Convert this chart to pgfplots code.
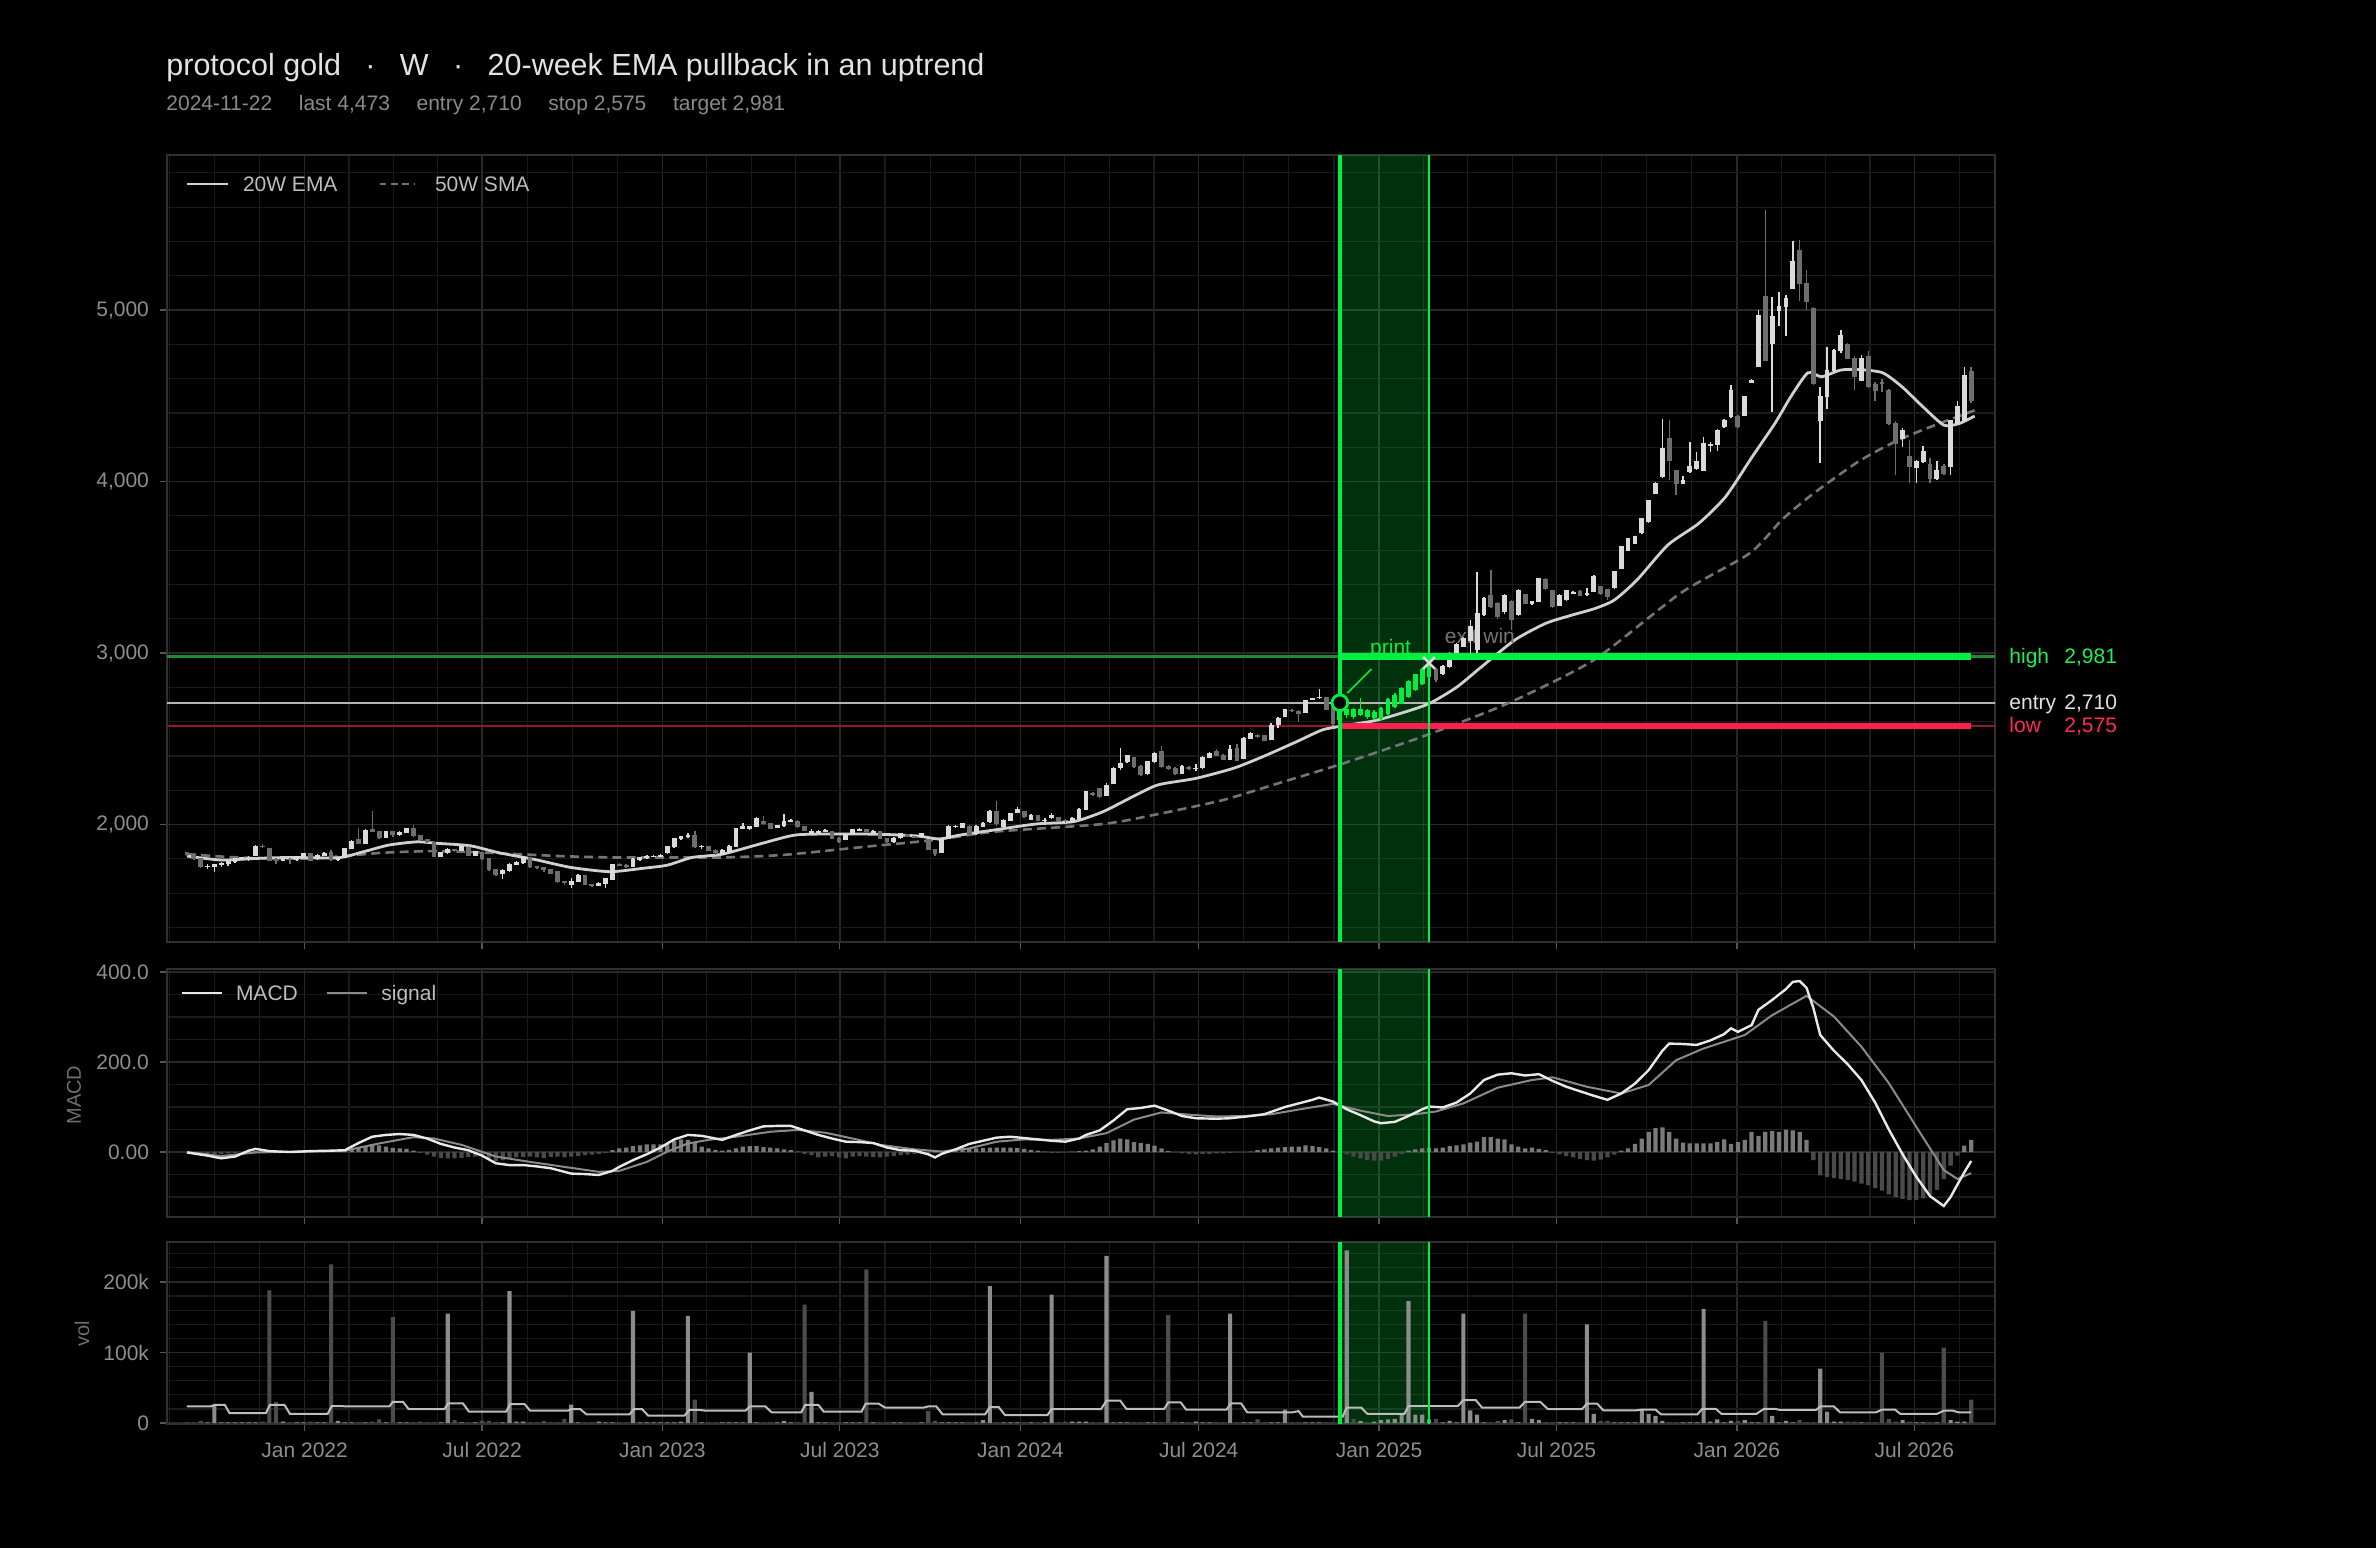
\documentclass[border=0pt]{standalone}
\usepackage{pgfplots}
\pgfplotsset{compat=1.18}
\usepackage{pgfplotstable}
\usepackage{fontspec}
\setmainfont{Liberation Sans}

\definecolor{framec}{HTML}{303030}
\definecolor{gridmaj}{HTML}{282828}
\definecolor{gridmin}{HTML}{1A1A1A}
\definecolor{tickc}{HTML}{555555}
\definecolor{ticklab}{HTML}{8E8E8E}
\definecolor{titlec}{HTML}{E2E2E2}
\definecolor{subc}{HTML}{8A8A8A}
\definecolor{legc}{HTML}{BDBDBD}
\definecolor{upc}{HTML}{DADADA}
\definecolor{dnc}{HTML}{6E6E6E}
\definecolor{trade}{HTML}{00F040}
\definecolor{hidim}{HTML}{1E8C30}
\definecolor{lodim}{HTML}{8E1830}
\definecolor{lored}{HTML}{FF1F4F}
\definecolor{entryc}{HTML}{B4B4B4}
\definecolor{emac}{HTML}{D0D0D0}
\definecolor{smac}{HTML}{747474}
\definecolor{macdc}{HTML}{E8E8E8}
\definecolor{sigc}{HTML}{8A8A8A}
\definecolor{hpos}{HTML}{7A7A7A}
\definecolor{hneg}{HTML}{4A4A4A}
\definecolor{vup}{HTML}{8C8C8C}
\definecolor{vdn}{HTML}{4C4C4C}
\definecolor{vavg}{HTML}{BDBDBD}
\definecolor{exitc}{HTML}{747474}
\definecolor{labc}{HTML}{6E6E6E}
\definecolor{hilab}{HTML}{22EE55}
\definecolor{entlab}{HTML}{E0E0E0}
\definecolor{lolab}{HTML}{FF2A55}

\newcommand{\fs}{\fontsize{10.5}{12.6}\selectfont}

\pgfplotsset{
  panel/.style={
    scale only axis, width=914pt,
    xmin=-2.91, xmax=263.47,
    enlargelimits=false,
    axis line style={draw=framec, line width=1pt},
    grid=both,
    major grid style={draw=gridmaj, line width=0.7pt},
    minor grid style={draw=gridmin, line width=0.6pt},
    major tick length=3.5pt, minor tick length=0pt,
    tick align=outside,
    tick style={draw=tickc, line width=0.6pt},
    xtick={17.143,43.0,69.286,95.143,121.43,147.43,173.71,199.57,225.86,251.71},
    minor xtick={-2.57,4.0,10.57,23.607,30.071,36.536,49.571,56.143,62.714,75.75,82.214,88.679,101.71,108.29,114.86,127.93,134.43,140.93,154.0,160.57,167.14,180.18,186.64,193.11,206.14,212.71,219.29,232.32,238.79,245.25,258.29},
    xticklabels={},
    xtick pos=left, ytick pos=left,
    tick label style={font=\fs, text=ticklab},
    yticklabel style={xshift=-2pt},
    axis background/.style={fill=black},
  },
  wick/.style={forget plot, mark=none, draw=#1, line width=0.75pt,
    quiver={u=0, v=\thisrow{h}-\thisrow{l}}},
  body/.style={forget plot, mark=none, draw=#1, line width=2.4pt,
    quiver={u=0, v=abs(\thisrow{c}-\thisrow{o})+6}},
}

\pgfplotstableread{
i o h l c v m
0 1835 1842 1815 1827 1 -1
1 1827 1832 1795 1800 1 -2
2 1800 1805 1745 1754 3 -3
3 1754 1768 1740 1758 1 -4
4 1758 1772 1725 1765 25 -4
5 1765 1780 1752 1775 1 -4
6 1775 1790 1760 1783 1 -3
7 1783 1806 1775 1802 1 -2
8 1802 1812 1795 1808 1 -1
9 1808 1816 1785 1810 1 0
10 1822 1878 1818 1874 1 2
11 1874 1888 1865 1870 2 2
12 1858 1862 1790 1793 188 1
13 1793 1805 1770 1790 30 0
14 1790 1805 1785 1797 2 0
15 1797 1802 1770 1795 1 0
16 1795 1818 1790 1812 1 1
17 1814 1834 1810 1830 1 1
18 1832 1836 1790 1793 2 1
19 1800 1826 1795 1822 1 1
20 1822 1840 1815 1830 1 1
21 1838 1852 1788 1795 225 2
22 1795 1808 1790 1802 3 2
23 1810 1865 1808 1860 1 3
24 1860 1908 1858 1903 1 6
25 1912 1977 1885 1890 1 10
26 1890 1972 1888 1967 1 13
27 1970 2078 1955 1960 2 17
28 1960 1962 1915 1923 5 15
29 1925 1962 1920 1957 1 12
30 1957 1965 1925 1940 150 9
31 1940 1962 1935 1955 1 8
32 1955 1982 1950 1977 1 7
33 1977 1998 1930 1935 1 3
34 1935 1938 1905 1910 2 -2
35 1910 1915 1895 1900 1 -6
36 1898 1900 1808 1812 1 -10
37 1812 1840 1810 1835 1 -13
38 1835 1862 1830 1855 155 -14
39 1855 1858 1840 1850 4 -14
40 1850 1878 1845 1870 1 -13
41 1868 1872 1815 1822 1 -11
42 1822 1848 1818 1840 1 -10
43 1838 1842 1795 1800 3 -9
44 1800 1802 1730 1738 3 -14
45 1738 1742 1700 1710 1 -20
46 1715 1738 1685 1730 1 -18
47 1730 1775 1725 1769 187 -14
48 1769 1785 1762 1777 2 -12
49 1777 1815 1772 1808 2 -11
50 1805 1810 1748 1754 1 -10
51 1754 1760 1740 1750 1 -12
52 1750 1752 1725 1735 3 -13
53 1735 1740 1710 1715 1 -11
54 1725 1728 1660 1666 1 -10
55 1666 1672 1650 1660 6 -12
56 1650 1690 1630 1670 26 -10
57 1670 1710 1665 1705 1 -9
58 1700 1705 1645 1651 1 -7
59 1651 1655 1638 1647 1 -6
60 1647 1662 1640 1657 2 -4
61 1657 1688 1630 1683 1 -2
62 1680 1770 1675 1767 1 4
63 1767 1775 1758 1763 1 8
64 1763 1768 1748 1754 1 10
65 1758 1802 1752 1798 159 13
66 1798 1812 1790 1806 1 15
67 1806 1820 1800 1816 1 17
68 1816 1822 1810 1816 1 17
69 1816 1828 1812 1822 1 17
70 1835 1874 1830 1870 1 18
71 1870 1922 1866 1918 1 25
72 1918 1935 1912 1928 2 28
73 1928 1948 1922 1938 152 27
74 1938 1960 1865 1870 33 20
75 1870 1878 1860 1870 1 12
76 1870 1875 1845 1850 1 8
77 1850 1856 1822 1835 1 5
78 1828 1858 1825 1850 1 3
79 1840 1880 1835 1871 1 5
80 1871 1982 1868 1978 1 8
81 1978 2010 1972 1987 1 12
82 1975 1992 1968 1988 100 13
83 1990 2045 1985 2036 1 13
84 2020 2050 2000 2007 1 11
85 2005 2010 1972 1978 1 10
86 1985 1998 1980 1992 1 8
87 1992 2060 1988 2020 3 6
88 2020 2032 2015 2026 1 4
89 2020 2024 1982 1988 1 1
90 1988 1992 1962 1968 168 -4
91 1950 1972 1945 1958 44 -7
92 1955 1968 1950 1960 1 -12
93 1960 1975 1955 1965 1 -10
94 1960 1964 1915 1920 1 -9
95 1920 1925 1895 1900 1 -12
96 1912 1945 1908 1940 1 -14
97 1940 1972 1936 1968 1 -10
98 1968 1978 1962 1968 1 -9
99 1968 1970 1950 1958 218 -10
100 1950 1968 1945 1960 1 -11
101 1958 1962 1915 1920 1 -12
102 1920 1924 1895 1900 1 -10
103 1900 1925 1895 1920 1 -9
104 1922 1952 1918 1945 1 -7
105 1940 1946 1926 1930 1 -6
106 1930 1935 1920 1925 1 -4
107 1930 1950 1925 1945 1 -3
108 1910 1915 1850 1855 17 -2
109 1855 1858 1815 1830 3 -2
110 1838 1915 1835 1910 1 0
111 1920 1995 1918 1988 1 2
112 1988 1998 1980 1988 1 4
113 1985 2010 1980 2003 1 6
114 1990 1995 1935 1940 1 7
115 1945 1995 1940 1988 1 8
116 1990 2012 1985 2003 4 9
117 2015 2082 2010 2075 194 10
118 2075 2140 1990 2007 1 10
119 1990 2032 1985 2026 1 10
120 2026 2070 2020 2065 1 10
121 2072 2100 2068 2085 1 9
122 2075 2080 2040 2045 1 7
123 2030 2060 2025 2055 1 5
124 2055 2058 2018 2022 1 3
125 2022 2040 2015 2026 1 1
126 2040 2065 2035 2055 182 -2
127 2040 2045 2020 2026 1 -2
128 2026 2030 2010 2022 2 -1
129 2012 2042 2008 2036 2 1
130 2036 2095 2030 2089 2 2
131 2090 2198 2085 2192 2 3
132 2180 2190 2165 2173 1 6
133 2210 2215 2155 2163 1 12
134 2170 2240 2165 2230 237 20
135 2240 2335 2235 2327 1 26
136 2330 2445 2320 2357 1 30
137 2365 2405 2360 2400 1 28
138 2390 2395 2330 2337 1 22
139 2340 2345 2285 2294 1 20
140 2300 2372 2290 2366 1 18
141 2366 2420 2360 2415 1 14
142 2425 2460 2330 2337 1 8
143 2340 2345 2318 2327 153 2
144 2327 2335 2290 2298 2 -1
145 2300 2345 2295 2337 1 -3
146 2335 2340 2315 2327 1 -4
147 2327 2355 2310 2327 2 -5
148 2330 2398 2325 2392 1 -4
149 2392 2425 2385 2415 1 -4
150 2425 2440 2400 2405 1 -3
151 2405 2410 2375 2380 1 -3
152 2380 2462 2375 2435 155 -2
153 2445 2470 2370 2376 1 -1
154 2385 2510 2380 2502 1 0
155 2502 2540 2498 2532 1 1
156 2520 2525 2505 2512 5 4
157 2518 2522 2485 2490 1 6
158 2495 2590 2490 2580 1 8
159 2585 2625 2560 2619 1 10
160 2630 2675 2625 2668 19 11
161 2665 2672 2658 2663 1 12
162 2660 2668 2600 2648 1 12
163 2655 2725 2650 2722 1 15
164 2728 2740 2725 2735 1 13
165 2738 2790 2732 2741 1 11
166 2741 2745 2670 2672 1 8
167 2680 2690 2575 2590 1 3
168 2610 2720 2570 2707 3 -2
169 2640 2690 2620 2672 245 -5
170 2672 2680 2615 2632 6 -10
171 2640 2735 2630 2672 3 -14
172 2665 2675 2615 2628 1 -18
173 2622 2665 2610 2655 2 -19
174 2620 2685 2612 2678 4 -19
175 2650 2735 2640 2726 5 -16
176 2688 2765 2680 2755 6 -10
177 2707 2800 2700 2794 12 -4
178 2746 2840 2740 2833 173 3
179 2785 2880 2778 2872 12 6
180 2823 2910 2815 2901 12 8
181 2862 2945 2855 2930 5 10
182 2901 2910 2830 2843 6 8
183 2882 2930 2870 2920 1 10
184 2920 3005 2910 2998 3 13
185 2998 3060 2990 3050 1 15
186 3040 3095 3035 3085 155 17
187 3076 3190 2990 3154 18 21
188 3020 3470 2990 3231 12 23
189 3222 3325 3215 3319 1 33
190 3335 3484 3260 3270 1 33
191 3290 3300 3200 3212 3 30
192 3240 3345 3230 3338 4 28
193 3300 3310 3135 3193 5 17
194 3225 3375 3215 3367 1 12
195 3340 3345 3285 3290 155 8
196 3290 3305 3280 3300 6 10
197 3300 3440 3295 3435 4 7
198 3430 3440 3370 3377 1 4
199 3365 3370 3260 3270 1 -2
200 3280 3345 3275 3338 1 -5
201 3310 3370 3305 3367 1 -9
202 3350 3360 3345 3355 1 -12
203 3360 3365 3330 3338 1 -15
204 3340 3380 3335 3348 140 -18
205 3360 3455 3355 3445 13 -19
206 3385 3390 3340 3348 3 -17
207 3370 3375 3310 3330 3 -12
208 3380 3480 3375 3474 1 -6
209 3493 3625 3490 3620 1 3
210 3600 3672 3595 3668 1 8
211 3640 3682 3635 3678 1 18
212 3700 3790 3695 3785 20 30
213 3765 3895 3760 3892 13 45
214 3930 3995 3925 3989 10 53
215 4028 4365 4020 4193 3 55
216 4251 4358 4010 4125 1 45
217 4067 4070 3920 3989 1 30
218 3990 4030 3985 4008 1 21
219 4060 4230 4050 4086 1 19
220 4075 4170 4070 4115 1 19
221 4067 4260 4062 4222 162 19
222 4210 4232 4170 4213 2 19
223 4215 4305 4180 4300 5 22
224 4320 4362 4315 4358 1 28
225 4378 4560 4370 4533 3 18
226 4378 4390 4310 4320 3 22
227 4385 4500 4380 4494 4 27
228 4580 4600 4575 4591 1 45
229 4669 5000 4665 4970 1 36
230 5077 5583 4700 4708 145 45
231 4805 5078 4407 4960 10 47
232 5000 5108 4905 5019 1 45
233 5020 5085 4850 5067 3 50
234 5126 5400 5120 5281 1 48
235 5349 5408 5050 5155 4 45
236 5155 5233 5000 5048 1 27
237 5009 5015 4565 4572 1 -18
238 4358 4553 4106 4494 77 -52
239 4494 4786 4420 4650 16 -55
240 4650 4770 4640 4766 2 -58
241 4766 4883 4750 4853 2 -60
242 4800 4805 4712 4718 2 -62
243 4720 4730 4533 4611 2 -66
244 4590 4740 4585 4718 1 -70
245 4728 4760 4548 4553 1 -74
246 4563 4580 4470 4533 1 -80
247 4580 4600 4520 4572 100 -86
248 4533 4540 4330 4339 6 -94
249 4339 4350 4038 4222 2 -100
250 4250 4310 4200 4300 4 -104
251 4145 4240 3990 4087 2 -107
252 4080 4125 3990 4115 1 -107
253 4115 4210 4108 4174 1 -103
254 4100 4140 3990 4018 1 -95
255 4018 4120 4010 4067 1 -84
256 4086 4100 4040 4048 107 -60
257 4086 4360 4038 4358 4 -30
258 4340 4470 4330 4436 2 -8
259 4358 4665 4355 4621 2 14
260 4640 4669 4460 4475 33 27
}\candles

\begin{document}
\begin{tikzpicture}
\path[use as bounding box, fill=black] (0,0) rectangle (1188pt,774pt);

% ---------------- titles
\node[anchor=base west, inner sep=0, text=titlec, font=\fontsize{15.25}{18}\selectfont] at (83pt,736pt)
  {protocol gold\hspace{0.8em}·\hspace{0.8em}W\hspace{0.8em}·\hspace{0.8em}20-week EMA pullback in an uptrend};
\node[anchor=base west, inner sep=0, text=subc, font=\fs] at (83pt,718.5pt)
  {2024-11-22\hspace{1.27em}last 4,473\hspace{1.27em}entry 2,710\hspace{1.27em}stop 2,575\hspace{1.27em}target 2,981};

% ---------------- price panel
\begin{axis}[panel, at={(83.5pt,303pt)}, anchor=south west, height=393.5pt,
  ymin=1315, ymax=5904,
  ytick={2000,3000,4000,5000}, yticklabels={{2,000},{3,000},{4,000},{5,000}},
  minor ytick={1400,1600,1800,2200,2400,2600,2800,3200,3400,3600,3800,4200,4400,4600,4800,5200,5400,5600,5800}]
\fill[trade, fill opacity=0.2] ({axis cs:168,3000}|-{rel axis cs:0,0}) rectangle ({axis cs:181,3000}|-{rel axis cs:0,1});
\addplot[hidim, line width=1.3pt, forget plot] coordinates {(-10,2981) (270,2981)};
\addplot[entryc, line width=0.8pt, forget plot] coordinates {(-10,2710) (270,2710)};
\addplot[lodim, line width=1.3pt, forget plot] coordinates {(-10,2575) (270,2575)};
% 50W SMA
\addplot[smac, line width=1.3pt, dash pattern=on 4.5pt off 2.6pt, smooth, tension=0.4] coordinates {
(0,1827) (7.5,1808) (18,1802) (28.4,1835) (36.2,1845) (44,1835) (54.3,1816) (62.1,1808) (70,1808) (78,1808)
(87,1823) (99,1871) (109,1910) (117.6,1958) (133.5,2003) (142,2065) (151,2143) (159,2240) (168,2350)
(180,2512) (192.5,2707) (205,2959) (217.6,3348) (227.7,3581) (232.5,3780) (237,3930) (243.7,4120)
(249.3,4240) (254.8,4330) (260.5,4415)};
% 20W EMA
\addplot[emac, line width=1.4pt, smooth, tension=0.4] coordinates {
(0,1816) (5,1793) (10,1802) (15,1808) (22,1806) (25.7,1841) (29.4,1880) (33.5,1899) (36.6,1890) (41.3,1876)
(45.5,1835) (50.7,1796) (55.9,1750) (61.6,1725) (66.3,1744) (70,1763) (73.6,1808) (78,1827) (83.8,1890)
(88.7,1939) (94.9,1945) (101,1943) (106.5,1933) (109.6,1916) (112.7,1939) (117.6,1968) (123.7,2003)
(129.2,2017) (133.5,2075) (137.8,2162) (141.5,2231) (147,2269) (152.5,2328) (156.8,2396) (161.7,2483)
(165.4,2551) (168,2572) (173,2605) (177,2650) (181,2705) (185,2800) (188.5,2915) (193.5,3076) (198,3173)
(201.9,3222) (205.2,3260) (208,3309) (211.3,3426) (215.8,3630) (220.3,3756) (224.2,3911) (228.1,4145)
(231.4,4339) (233.7,4494) (236.2,4634) (238.2,4611) (241,4650) (243.7,4653) (247.1,4634) (249.9,4553)
(252.7,4446) (256,4329) (258.3,4339) (260.5,4382)};
\node[anchor=base, text=exitc, font=\fs, inner sep=0] at (axis cs:188.4,3058) {exit win};
% wicks (drawn upward from the low)
\addplot[wick=upc]
  table[x=i, y expr={(\thisrow{c}>=\thisrow{o})*((\thisrow{i}<167.5)+(\thisrow{i}>181.5))>0.5 ? \thisrow{l} : nan}] {\candles};
\addplot[wick=dnc]
  table[x=i, y expr={(\thisrow{c}<\thisrow{o})*((\thisrow{i}<167.5)+(\thisrow{i}>181.5))>0.5 ? \thisrow{l} : nan}] {\candles};
\addplot[wick=trade]
  table[x=i, y expr={((\thisrow{i}<167.5)+(\thisrow{i}>181.5))<0.5 ? \thisrow{l} : nan}] {\candles};
% bodies (drawn upward from the lower of open and close)
\addplot[body=upc]
  table[x=i, y expr={(\thisrow{c}>=\thisrow{o})*((\thisrow{i}<167.5)+(\thisrow{i}>181.5))>0.5 ? min(\thisrow{o},\thisrow{c})-3 : nan}] {\candles};
\addplot[body=dnc]
  table[x=i, y expr={(\thisrow{c}<\thisrow{o})*((\thisrow{i}<167.5)+(\thisrow{i}>181.5))>0.5 ? min(\thisrow{o},\thisrow{c})-3 : nan}] {\candles};
\addplot[body=trade]
  table[x=i, y expr={((\thisrow{i}<167.5)+(\thisrow{i}>181.5))<0.5 ? min(\thisrow{o},\thisrow{c})-3 : nan}] {\candles};
% trade annotations
\node[anchor=base, text=trade, font=\fs, inner sep=0] at (axis cs:175.4,2992) {print};
\addplot[trade, line width=3.3pt, forget plot] coordinates {(168,2981) (260,2981)};
\addplot[lored, line width=3.3pt, forget plot] coordinates {(168.3,2575) (260,2575)};
\addplot[trade, line width=0.8pt, forget plot] coordinates {(169.1,2767) (172.6,2907)};
\addplot[only marks, mark=*, mark size=3.9pt, mark options={draw=trade, fill=black, line width=1.4pt}, forget plot]
  coordinates {(168,2710)};
\addplot[only marks, mark=x, mark size=4.2pt, mark options={draw=upc, line width=1.3pt}, forget plot]
  coordinates {(181,2942)};
\draw[trade, line width=2pt] ({axis cs:168,3000}|-{rel axis cs:0,0}) -- ({axis cs:168,3000}|-{rel axis cs:0,1});
\draw[trade, line width=1.2pt] ({axis cs:181,3000}|-{rel axis cs:0,0}) -- ({axis cs:181,3000}|-{rel axis cs:0,1});
\end{axis}

% ---------------- MACD panel
\begin{axis}[panel, at={(83.5pt,165.5pt)}, anchor=south west, height=124pt,
  ymin=-144.4, ymax=406.7,
  ytick={0,200,400}, yticklabels={0.00,200.0,400.0},
  minor ytick={-100,-50,50,100,150,250,300,350}]
\fill[trade, fill opacity=0.2] ({axis cs:168,0}|-{rel axis cs:0,0}) rectangle ({axis cs:181,0}|-{rel axis cs:0,1});
\addplot[ybar, bar width=0.62, bar shift=0pt, fill=hpos, draw=none, forget plot]
  table[x=i, y expr={\thisrow{m}>=0 ? \thisrow{m} : nan}] {\candles};
\addplot[ybar, bar width=0.62, bar shift=0pt, fill=hneg, draw=none, forget plot]
  table[x=i, y expr={\thisrow{m}<0 ? \thisrow{m} : nan}] {\candles};
\addplot[sigc, line width=1pt] coordinates {
(0,0) (5,-9) (10,-1) (17,1) (23,3) (28,19) (33,33) (36,30) (40,16) (45,-10) (50,-22) (55,-33) (60,-44) (63,-42)
(67,-22) (70,1) (73,19) (76,27) (80,34) (85,45) (89,49) (93,43) (97,30) (101,16) (106,6) (110,1) (114,8)
(118,23) (122,28) (126,27) (130,30) (134,42) (138,72) (142,88) (146,83) (150,79) (154,80) (158,84) (163,97)
(167,107) (171,92) (175,80) (179,84) (182,90) (186,108) (191,143) (196,160) (199,166) (204,145) (209,130)
(213,149) (217,204) (221,230) (227,260) (231,304) (236,347) (240,301) (244,234) (248,153) (252,56) (256,-40)
(258,-60) (260,-47)};
\addplot[macdc, line width=1.2pt] coordinates {
(0,-1) (3,-8) (5,-14) (7,-10) (9,3) (10,7) (12,2) (15,0) (18,2) (21,3) (23,4) (25,20) (27,34) (29,38) (31,40)
(33,38) (35,30) (37,18) (39,10) (41,4) (43,-8) (45,-25) (47,-29) (49,-29) (51,-32) (53,-36) (56,-48) (58,-49)
(60,-51) (62,-42) (63,-33) (65,-18) (67,-5) (69,10) (71,28) (73,38) (75,36) (77,30) (78,27) (80,38) (82,48)
(84,57) (86,58) (88,58) (90,48) (92,38) (94,30) (96,23) (98,22) (100,20) (102,10) (104,4) (106,3) (108,-5)
(109,-12) (110,-4) (112,6) (114,18) (116,25) (118,32) (120,34) (122,31) (124,28) (126,25) (128,23) (130,30)
(131,38) (133,48) (135,70) (137,95) (139,98) (141,103) (143,92) (145,80) (147,75) (150,74) (152,75) (155,80)
(157,84) (160,100) (162,108) (164,116) (165,121) (167,112) (169,95) (171,82) (173,68) (174,64) (176,67)
(178,80) (180,95) (181,101) (183,99) (185,110) (187,130) (189,160) (191,172) (193,175) (195,170) (197,173)
(199,158) (201,145) (203,135) (205,125) (207,116) (209,130) (211,152) (213,182) (215,225) (216,241) (218,240)
(220,238) (222,248) (224,262) (225,275) (226,267) (228,282) (229,316) (231,338) (233,362) (234,378) (235,380)
(236,365) (237,320) (238,260) (240,225) (242,195) (244,160) (246,110) (248,50) (250,-5) (252,-55) (254,-98)
(256,-120) (257,-100) (258,-72) (259,-45) (260,-20)};
\draw[trade, line width=2pt] ({axis cs:168,0}|-{rel axis cs:0,0}) -- ({axis cs:168,0}|-{rel axis cs:0,1});
\draw[trade, line width=1.2pt] ({axis cs:181,0}|-{rel axis cs:0,0}) -- ({axis cs:181,0}|-{rel axis cs:0,1});
\end{axis}

% ---------------- volume panel
\begin{axis}[panel, at={(83.5pt,62pt)}, anchor=south west, height=91pt,
  ymin=-1.4, ymax=256.7,
  ytick={0,100,200}, yticklabels={0,100k,200k},
  minor ytick={20,40,60,80,120,140,160,180,220,240},
  xticklabels={Jan 2022,Jul 2022,Jan 2023,Jul 2023,Jan 2024,Jul 2024,Jan 2025,Jul 2025,Jan 2026,Jul 2026},
  xticklabel style={yshift=-2.2pt}]
\fill[trade, fill opacity=0.2] ({axis cs:168,0}|-{rel axis cs:0,0}) rectangle ({axis cs:181,0}|-{rel axis cs:0,1});
\addplot[ybar, bar width=0.6, bar shift=0pt, fill=vup, draw=none, forget plot]
  table[x=i, y expr={\thisrow{c}>=\thisrow{o} ? \thisrow{v} : nan}] {\candles};
\addplot[ybar, bar width=0.6, bar shift=0pt, fill=vdn, draw=none, forget plot]
  table[x=i, y expr={\thisrow{c}<\thisrow{o} ? \thisrow{v} : nan}] {\candles};
\addplot[vavg, line width=1pt] coordinates {
(0,23.5) (3.5,23.5) (4,25.8) (5.5,25.8) (6.2,14) (11.5,14) (12.1,25.8) (14.2,25.8) (15,13) (20.5,13) (21.1,24)
(25,23.5) (29.5,23.5) (30,30) (31.5,30) (32.3,19.6) (37.5,19.6) (38.1,28) (40.2,28) (41.1,16) (46.5,16)
(47.1,26.9) (49.2,26.9) (50,17.5) (55.5,17.5) (56,19.8) (57.3,19.8) (58.2,12.3) (64.5,12.3) (65.1,19.8)
(66.3,19.8) (67.2,10.6) (72.5,10.6) (73.2,18.5) (74.7,18.5) (75.6,17.5) (81.4,17.5) (82,23.5) (84.3,23.5)
(85.2,15) (89.5,15) (90.1,25.8) (92,25.8) (92.8,16) (98.3,16) (98.9,27.4) (100.8,27.4) (101.7,22) (107.4,22)
(108,23.5) (109.2,23.5) (110.1,12.3) (116.3,12.3) (117,22.4) (118.3,22.4) (119.2,11.3) (125.4,11.3) (126,19.8)
(133.2,19.8) (134,31.6) (136,31.6) (136.9,20) (142.4,20) (143,29.3) (144.8,29.3) (145.6,19) (151.5,19)
(152.1,28) (153.6,28) (154.5,15) (161,15) (162,16.9) (162.6,9) (168.4,9) (169,22) (171.1,22) (172,13)
(177.4,13) (178,24) (185.2,24) (186,32.6) (187.8,32.6) (188.7,22) (194.2,22) (195,30) (197.2,30) (198.3,19.8)
(203.3,19.8) (204,27.4) (205.5,27.4) (206.4,18) (211.2,18) (212.1,19) (214,19) (214.8,12.3) (220.1,12.3)
(220.8,20) (222.8,20) (223.6,13) (228.7,13) (229.8,20) (231.4,20) (232.2,18.5) (237.4,18.5) (238,23.5)
(240,23.5) (240.9,15) (246.1,15) (247,19) (248.9,19) (249.7,12.8) (255,12.8) (256,17.5) (257.3,17.5)
(258.2,15) (260,15)};
\draw[trade, line width=2pt] ({axis cs:168,0}|-{rel axis cs:0,0}) -- ({axis cs:168,0}|-{rel axis cs:0,1});
\draw[trade, line width=1.2pt] ({axis cs:181,0}|-{rel axis cs:0,0}) -- ({axis cs:181,0}|-{rel axis cs:0,1});
\end{axis}

% ---------------- legends and labels
\draw[emac, line width=1.4pt] (93.7pt,682pt) -- (114pt,682pt);
\node[anchor=base west, inner sep=0, text=legc, font=\fs] at (121.3pt,678.3pt) {20W EMA};
\draw[smac, line width=1.3pt, dash pattern=on 3.2pt off 2.4pt] (190pt,682pt) -- (207pt,682pt);
\node[anchor=base west, inner sep=0, text=legc, font=\fs] at (217.3pt,678.3pt) {50W SMA};

\draw[macdc, line width=1.2pt] (91pt,277.5pt) -- (111pt,277.5pt);
\node[anchor=base west, inner sep=0, text=legc, font=\fs] at (117.8pt,273.8pt) {MACD};
\draw[sigc, line width=1pt] (163.7pt,277.5pt) -- (183.6pt,277.5pt);
\node[anchor=base west, inner sep=0, text=legc, font=\fs] at (190.5pt,273.8pt) {signal};

\node[rotate=90, text=labc, font=\fontsize{10}{12}\selectfont, inner sep=0] at (37pt,226.5pt) {MACD};
\node[rotate=90, text=labc, font=\fontsize{10}{12}\selectfont, inner sep=0] at (41pt,107pt) {vol};

\node[anchor=base west, inner sep=0, text=hilab, font=\fs] at (1004.5pt,442.3pt) {high};
\node[anchor=base west, inner sep=0, text=hilab, font=\fs] at (1032pt,442.3pt) {2,981};
\node[anchor=base west, inner sep=0, text=entlab, font=\fs] at (1004.5pt,419.3pt) {entry};
\node[anchor=base west, inner sep=0, text=entlab, font=\fs] at (1032pt,419.3pt) {2,710};
\node[anchor=base west, inner sep=0, text=lolab, font=\fs] at (1004.5pt,407.8pt) {low};
\node[anchor=base west, inner sep=0, text=lolab, font=\fs] at (1032pt,407.8pt) {2,575};
\end{tikzpicture}
\end{document}
